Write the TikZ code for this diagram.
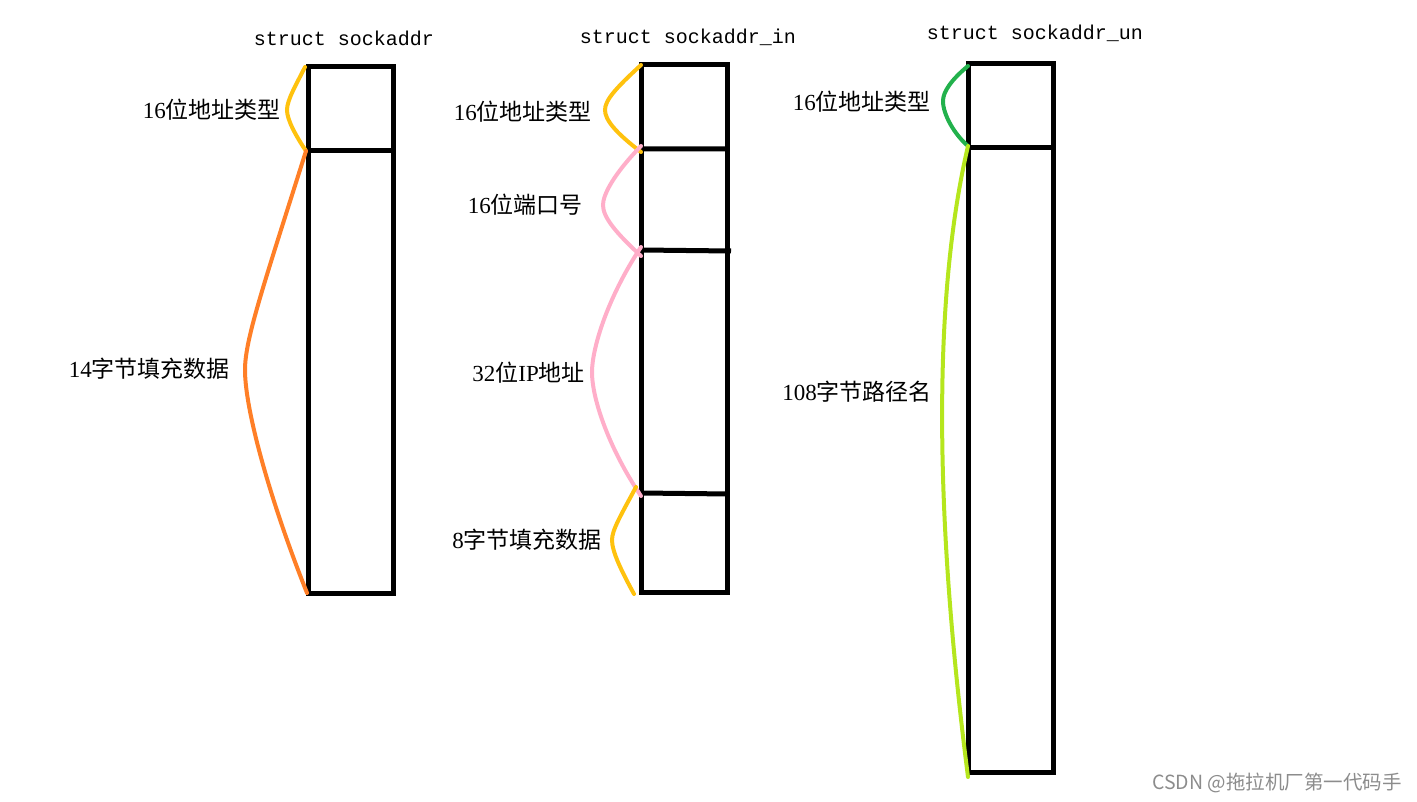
\documentclass[tikz,border=0pt]{standalone}
\usepackage{fontspec}
\setmainfont{Liberation Serif}
\setmonofont{Liberation Mono}
\newfontfamily\cjk{Noto Sans CJK SC}
\newcommand{\hz}[1]{{\cjk #1}}
\usepackage{xcolor}
\usepackage{tikz}
\definecolor{bYellow}{HTML}{FFC20E}
\definecolor{bOrange}{HTML}{FF7F27}
\definecolor{bPink}{HTML}{FFAEC9}
\definecolor{bGreen}{HTML}{22B14C}
\definecolor{bLime}{HTML}{B5E61D}

\begin{document}
\begin{tikzpicture}[
    x=1pt, y=-1pt,
    cell/.style={draw=black, line width=5pt},
    brace/.style={line width=4pt, line cap=round},
    lbl/.style={anchor=east, inner sep=0pt, font=\fontsize{23pt}{27pt}\selectfont},
    head/.style={inner sep=0pt, font=\ttfamily\fontsize{20pt}{24pt}\selectfont}
  ]
  \useasboundingbox (0,0) rectangle (1417,802);
  % corners on the left edge of each struct
  \coordinate (a0) at (308,67);  \coordinate (a1) at (308,151);
  \coordinate (a2) at (308,593);
  \coordinate (b0) at (641,65);  \coordinate (b1) at (641,149);
  \coordinate (b2) at (641,250); \coordinate (b3) at (641,493);
  \coordinate (b4) at (641,592);
  \coordinate (c0) at (968,64);  \coordinate (c1) at (968,148);
  \coordinate (c2) at (968,772);

  % struct sockaddr
  \node[head] (h1) at (344,38) {struct sockaddr};
  \draw[cell] (a0) rectangle (393,593);
  \draw[cell] (a1) -- (393,151);
  \draw[brace, bYellow] ([xshift=-3]a0) .. controls (296,85) and (287,100) .. (287,110)
        .. controls (287,120) and (296,136) .. ([xshift=-2]a1);
  \draw[brace, bOrange] ([xshift=-2]a1) .. controls (262,290) and (245,340) .. (245,370)
        .. controls (245,410) and (270,500) .. ([xshift=-1]a2);
  \node[lbl] (l1) at (281,110) {16\hz{位地址类型}};
  \node[lbl] (l2) at (230,369) {14\hz{字节填充数据}};

  % struct sockaddr_in
  \node[head] (h2) at (688,37) {struct sockaddr\_in};
  \draw[cell] (b0) rectangle (727,592);
  \draw[cell] (b1) -- (727,149)
              (b2) -- (731,251)
              (b3) -- (729,494);
  \draw[brace, bYellow] (b0) .. controls (616,88) and (605,100) .. (605,110)
        .. controls (605,120) and (616,133) .. ([yshift=-3]b1);
  \draw[brace, bPink] ([yshift=3]b1) .. controls (613,175) and (603,195) .. (603,205)
        .. controls (603,217) and (615,232) .. ([yshift=-6]b2);
  \draw[brace, bPink] ([yshift=3]b2) .. controls (606,300) and (592,350) .. (592,372)
        .. controls (592,400) and (610,450) .. ([yshift=-3]b3);
  \draw[brace, bYellow] ([xshift=-5,yshift=6]b3) .. controls (621,515) and (612,530) .. (612,540)
        .. controls (612,552) and (622,572) .. ([xshift=-7,yshift=-2]b4);
  \node[lbl] (l3) at (592,112) {16\hz{位地址类型}};
  \node[lbl] (l4) at (583,205) {16\hz{位端口号}};
  \node[lbl] (l5) at (585,373) {32\hz{位}IP\hz{地址}};
  \node[lbl] (l6) at (602,540) {8\hz{字节填充数据}};

  % struct sockaddr_un
  \node[head] (h3) at (1035,33) {struct sockaddr\_un};
  \draw[cell] (c0) rectangle (1053,772);
  \draw[cell] (c1) -- (1053,148);
  \draw[brace, bGreen] ([yshift=-2]c0) .. controls (951,80) and (943,92) .. (943,101)
        .. controls (943,115) and (955,135) .. ([yshift=2]c1);
  \draw[brace, bLime] ([yshift=2]c1) .. controls (932,300) and (935,520) .. ([yshift=-5]c2);
  \node[lbl] (l7) at (931,102) {16\hz{位地址类型}};
  \node[lbl] (l8) at (932,392) {108\hz{字节路径名}};

  \node[anchor=east, inner sep=0pt, text=black!45,
        font=\cjk\fontsize{19.5pt}{23pt}\selectfont] (wm) at (1402,783)
        {CSDN @拖拉机厂第一代码手};
\end{tikzpicture}
\end{document}
